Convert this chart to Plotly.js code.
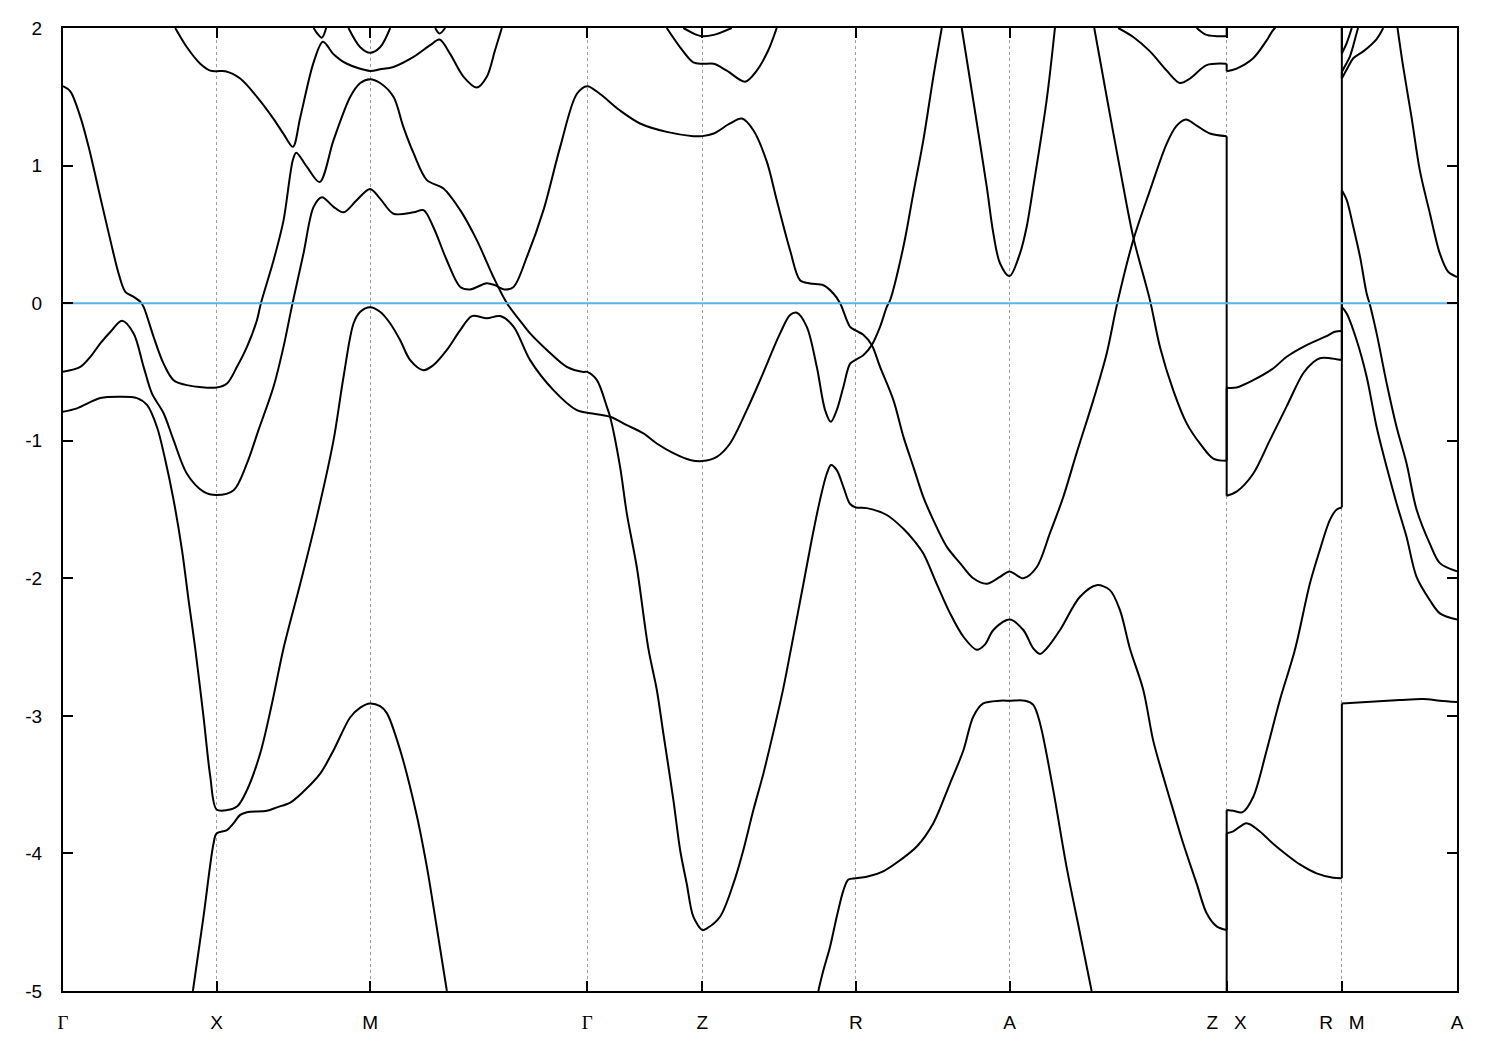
<!DOCTYPE html>
<html>
<head>
<meta charset="utf-8">
<script src="https://cdn.plot.ly/plotly-3.0.1.min.js"></script>
<style>
html, body { margin: 0; padding: 0; background: #ffffff; }
#chart { width: 1500px; height: 1050px; }
</style>
</head>
<body>
<div id="chart"></div>
<script>
// High-symmetry points along the k-path (Γ-X-M-Γ-Z-R-A-Z|X-R|M-A)
const kPoints = [0, 1, 2, 3.4142, 4.1642, 5.1642, 6.1642, 7.5784, 8.3284, 9.0784];
const kLabels = ['Γ', 'X', 'M', 'Γ', 'Z', 'R', 'A', 'Z\u00a0\u00a0\u00a0X', 'R\u00a0\u00a0\u00a0M', 'A'];
const energyTicks = [-5, -4, -3, -2, -1, 0, 1, 2];
const energyTickText = ['-5', '-4', '-3', '-2', '-1', '0', '1', '2'];
const energyRange = [-5, 2];
const fermiLevel = 0;

// ---- Bands (k, E in eV); equal consecutive k = discontinuity jump, null = gap ----
const bandD_k = [0.846, 0.915, 0.980, 1.000, 1.068, 1.111, 1.154, 1.198, 1.328, 1.393, 1.480, 1.566, 1.675, 1.762, 1.871, 1.936, 2.000, 2.065, 2.109, 2.196, 2.305, 2.370, 2.413, 2.500];
const bandD_E = [-5.00, -4.46, -3.93, -3.855, -3.83, -3.78, -3.72, -3.70, -3.69, -3.665, -3.63, -3.55, -3.42, -3.25, -3.01, -2.94, -2.91, -2.93, -2.98, -3.25, -3.73, -4.10, -4.39, -5.00];

const bandF_k = [4.919, 4.952, 4.995, 5.039, 5.082, 5.115, 5.1642, 5.234, 5.342, 5.451, 5.560, 5.668, 5.777, 5.864, 5.928, 5.993, 6.102, 6.1642, 6.265, 6.319, 6.363, 6.449, 6.536, 6.623, 6.699, null,
  7.5784, 7.5784, 7.621, 7.708, 7.795, 7.881, 7.969, 8.055, 8.164, 8.272, 8.3284, 8.3284, 8.490, 8.706, 8.858, 8.967, 9.0784];
const bandF_E = [-5.00, -4.85, -4.68, -4.46, -4.27, -4.19, -4.18, -4.17, -4.13, -4.05, -3.95, -3.78, -3.49, -3.25, -3.006, -2.91, -2.89, -2.89, -2.89, -2.92, -3.055, -3.54, -4.10, -4.58, -5.00, null,
  -5.5, -3.854, -3.84, -3.78, -3.84, -3.93, -4.01, -4.08, -4.145, -4.177, -4.18, -2.91, -2.90, -2.885, -2.878, -2.89, -2.90];

const bandC_k = [0, 0.091, 0.243, 0.373, 0.482, 0.547, 0.612, 0.666, 0.720, 0.775, 0.818, 0.861, 0.915, 0.959, 1.000,
  1.068, 1.137, 1.198, 1.285, 1.361, 1.436, 1.545, 1.654, 1.762, 1.827, 1.892, 1.936, 2.000,
  2.065, 2.131, 2.196, 2.261, 2.348, 2.413, 2.500, 2.587, 2.663, 2.760, 2.847, 2.934, 3.042, 3.194, 3.346, 3.4142,
  3.563, 3.672, 3.780, 3.867, 3.975, 4.084, 4.1642,
  4.258, 4.344, 4.453, 4.540, 4.670, 4.735, 4.779, 4.844, 4.909, 4.963, 5.000, 5.039, 5.082, 5.126, 5.1642,
  5.212, 5.267, 5.321, 5.365, 5.386, 5.473, 5.538, 5.603, 5.668, 5.723];
const bandC_E = [-0.79, -0.765, -0.69, -0.68, -0.69, -0.74, -0.90, -1.14, -1.43, -1.795, -2.16, -2.51, -3.006, -3.44, -3.68,
  -3.685, -3.655, -3.54, -3.27, -2.91, -2.51, -2.04, -1.55, -0.996, -0.535, -0.148, -0.063, -0.03,
  -0.063, -0.148, -0.27, -0.414, -0.487, -0.45, -0.34, -0.196, -0.094, -0.11, -0.094, -0.17, -0.414, -0.632, -0.778, -0.797,
  -0.826, -0.887, -0.947, -1.02, -1.09, -1.14, -1.148,
  -1.117, -1.02, -0.778, -0.56, -0.22, -0.087, -0.07, -0.172, -0.463, -0.778, -0.863, -0.778, -0.61, -0.44, -0.41,
  -0.378, -0.305, -0.172, -0.027, 0.02, 0.41, 0.80, 1.185, 1.645, 2.0];

const bandQ_k = [0, 0.0475, 0.113, 0.167, 0.243, 0.308, 0.362, 0.406, 0.460, 0.503, 0.525, 0.590, 0.655, 0.720, 0.807, 1.000,
  1.068, 1.133, 1.198, 1.263, 1.289, 1.371, 1.436, 1.497, 1.519, 1.589, 1.671, 1.762, 1.871, 1.936, 2.000,
  2.065, 2.152, 2.217, 2.283, 2.370, 2.478, 2.587, 2.695, 2.803, 2.891, 2.999, 3.042, 3.151, 3.281, 3.389, 3.4142,
  3.477, 3.542, 3.563, 3.628, 3.672, 3.737, 3.812, 3.867, 3.910, 3.975, 4.019, 4.062, 4.105, 4.1642,
  4.193, 4.279, 4.366, 4.431, 4.496, 4.561, 4.626, 4.691, 4.757, 4.822, 4.876, 4.930, 4.974, 5.002, 5.039, 5.082, 5.126, 5.1642,
  5.234, 5.365, 5.473, 5.538, 5.603, 5.690, 5.777, 5.864, 5.951, 6.005, 6.059, 6.1642, 6.254, 6.319, 6.363, 6.406, 6.493, 6.623, 6.732, 6.818, 6.883, 6.948, 7.035, 7.100, 7.165, 7.230, 7.296, 7.383, 7.448, 7.513, 7.5784,
  7.5784, 7.621, 7.682, 7.751, 7.839, 7.925, 8.023, 8.120, 8.185, 8.250, 8.295, 8.3284,
  8.3284, 8.360, 8.425, 8.490, 8.555, 8.620, 8.685, 8.750, 8.815, 8.902, 8.967, 9.0784];
const bandQ_E = [1.577, 1.54, 1.354, 1.136, 0.77, 0.46, 0.216, 0.082, 0.046, 0.01, -0.027, -0.245, -0.44, -0.56, -0.596, -0.613,
  -0.584, -0.463, -0.318, -0.124, 0, 0.31, 0.6, 1.04, 1.093, 0.99, 0.88, 1.185, 1.50, 1.60, 1.628,
  1.60, 1.50, 1.28, 1.09, 0.894, 0.834, 0.676, 0.458, 0.19, 0, -0.16, -0.22, -0.34, -0.463, -0.50, -0.50,
  -0.56, -0.754, -0.826, -1.19, -1.53, -1.92, -2.51, -2.81, -3.13, -3.61, -3.975, -4.22, -4.46, -4.557,
  -4.545, -4.46, -4.22, -3.975, -3.685, -3.42, -3.12, -2.80, -2.42, -2.04, -1.72, -1.43, -1.24, -1.177, -1.214, -1.335, -1.46, -1.485,
  -1.49, -1.54, -1.64, -1.72, -1.82, -2.04, -2.255, -2.425, -2.52, -2.48, -2.376, -2.30, -2.376, -2.51, -2.55, -2.51, -2.376, -2.134, -2.05, -2.086, -2.23, -2.51, -2.81, -3.18, -3.44, -3.685, -3.93, -4.22, -4.435, -4.53, -4.557,
  -3.685, -3.69, -3.70, -3.59, -3.25, -2.885, -2.52, -2.04, -1.795, -1.577, -1.50, -1.485,
  -0.027, -0.075, -0.27, -0.535, -0.90, -1.19, -1.456, -1.70, -1.99, -2.16, -2.255, -2.30];

const bandB_k = [0, 0.113, 0.178, 0.243, 0.308, 0.384, 0.460, 0.525, 0.579, 0.655, 0.720, 0.807, 0.915, 1.000,
  1.111, 1.198, 1.273, 1.371, 1.436, 1.495, 1.566, 1.632, 1.686, 1.762, 1.827, 1.914, 2.000,
  2.065, 2.152, 2.283, 2.348, 2.413, 2.500, 2.587, 2.652, 2.760, 2.814, 2.873, 2.934, 3.021, 3.129, 3.238, 3.346, 3.4142,
  3.498, 3.628, 3.758, 3.932, 4.105, 4.1642,
  4.238, 4.344, 4.421, 4.496, 4.583, 4.648, 4.735, 4.800, 4.865, 4.952, 5.017, 5.061, 5.126, 5.1642,
  5.212, 5.267, 5.321, 5.408, 5.473, 5.538, 5.603, 5.668, 5.755, 5.842, 5.928, 6.016, 6.102, 6.1642, 6.254, 6.341, 6.428, 6.514, 6.601, 6.710, 6.797, 6.866, 6.970, 7.079, 7.188, 7.253, 7.313, 7.383, 7.469, 7.5784,
  7.5784, 7.643, 7.751, 7.860, 7.969, 8.077, 8.142, 8.185, 8.250, 8.3284,
  8.3284, 8.360, 8.403, 8.447, 8.490, 8.512, 8.555, 8.620, 8.685, 8.750, 8.815, 8.902, 8.967, 9.0784];
const bandB_E = [-0.499, -0.463, -0.39, -0.293, -0.21, -0.128, -0.22, -0.463, -0.656, -0.80, -0.996, -1.24, -1.37, -1.395,
  -1.36, -1.165, -0.923, -0.608, -0.318, 0, 0.36, 0.70, 0.77, 0.70, 0.66, 0.75, 0.83,
  0.76, 0.65, 0.66, 0.676, 0.55, 0.31, 0.118, 0.10, 0.145, 0.13, 0.10, 0.118, 0.336, 0.676, 1.136, 1.52, 1.577,
  1.52, 1.40, 1.306, 1.245, 1.214, 1.214,
  1.233, 1.306, 1.342, 1.257, 1.03, 0.75, 0.385, 0.167, 0.143, 0.13, 0.07, 0, -0.172, -0.20,
  -0.23, -0.305, -0.463, -0.705, -0.97, -1.19, -1.41, -1.577, -1.77, -1.89, -2.0, -2.04, -1.99, -1.95, -2.0, -1.92, -1.67, -1.41, -1.09, -0.705, -0.366, 0, 0.458, 0.82, 1.16, 1.29, 1.335, 1.29, 1.233, 1.214,
  -1.40, -1.37, -1.24, -0.996, -0.75, -0.51, -0.43, -0.40, -0.40, -0.414,
  0.82, 0.75, 0.555, 0.336, 0.07, -0.015, -0.22, -0.58, -0.90, -1.165, -1.50, -1.75, -1.89, -1.95];

const bandE_k = [0.731, 0.807, 0.894, 0.959, 1.000, 1.057, 1.154, 1.263, 1.371, 1.436, 1.497, 1.545, 1.632, 1.693, 1.762, 1.849, 2.000,
  2.065, 2.152, 2.283, 2.391, 2.452, 2.522, 2.609, 2.695, 2.760, 2.814, 2.858];
const bandE_E = [2.0, 1.86, 1.74, 1.69, 1.686, 1.686, 1.633, 1.50, 1.34, 1.23, 1.136, 1.35, 1.75, 1.90, 1.81, 1.74, 1.688,
  1.70, 1.717, 1.79, 1.875, 1.916, 1.81, 1.645, 1.567, 1.645, 1.84, 2.0];

const bandT1_k = [1.632, 1.656, 1.686, 1.714];
const bandT1_E = [2.0, 1.96, 1.93, 2.0];
const bandT2_k = [1.859, 1.936, 2.000, 2.065, 2.131];
const bandT2_E = [2.0, 1.86, 1.82, 1.86, 2.0];
const bandT3_k = [2.424, 2.452, 2.489];
const bandT3_E = [2.0, 1.96, 2.0];
const bandT4_k = [3.932, 4.019, 4.105, 4.1642, 4.238, 4.323, 4.442, 4.518, 4.594, 4.648];
const bandT4_E = [2.0, 1.86, 1.75, 1.74, 1.74, 1.69, 1.61, 1.69, 1.84, 2.0];
const bandT5_k = [4.040, 4.128, 4.1642, 4.238, 4.355];
const bandT5_E = [2.0, 1.95, 1.94, 1.95, 2.0];
const bandT6_k = [5.853, 5.928, 6.016, 6.059, 6.102, 6.1642, 6.232, 6.276, 6.319, 6.406, 6.460];
const bandT6_E = [2.0, 1.475, 0.845, 0.506, 0.29, 0.196, 0.36, 0.555, 0.845, 1.475, 2.0];
const bandT6b_k = [8.691, 8.728, 8.782, 8.836, 8.902, 8.967, 9.021, 9.0784];
const bandT6b_E = [2.0, 1.717, 1.354, 0.967, 0.652, 0.36, 0.228, 0.19];
const bandT7_k = [6.872, 6.970, 7.079, 7.188, 7.274, 7.340, 7.448, 7.5784, 7.5784, 7.643, 7.751, 7.839, 7.893, 8.3284, 8.3284, 8.369, 8.403, 8.468, 8.555, 8.598];
const bandT7_E = [2.0, 1.935, 1.83, 1.69, 1.60, 1.633, 1.73, 1.74, 1.686, 1.705, 1.78, 1.91, 2.0, 2.3, 1.633, 1.717, 1.78, 1.83, 1.92, 2.0];
const bandT8_k = [7.383, 7.448, 7.5784, 7.5784, 8.3284, 8.3284, 8.360, 8.393];
const bandT8_E = [2.0, 1.95, 1.94, 2.3, 2.3, 1.815, 1.89, 2.0];
const bandT9_k = [6.716, 6.797, 6.883, 6.970, 7.079, 7.144, 7.230, 7.318, 7.404, 7.491, 7.5784, 7.5784, 7.643, 7.751, 7.881, 7.969, 8.099, 8.229, 8.283, 8.3284, 8.3284, 8.347, 8.380, 8.424, 8.434];
const bandT9_E = [2.0, 1.50, 0.98, 0.48, 0.02, -0.318, -0.632, -0.874, -1.02, -1.13, -1.146, -0.615, -0.613, -0.56, -0.475, -0.39, -0.305, -0.24, -0.208, -0.203, 1.68, 1.72, 1.79, 1.96, 2.0];

const bands = [
  [bandD_k, bandD_E], [bandF_k, bandF_E], [bandC_k, bandC_E], [bandQ_k, bandQ_E], [bandB_k, bandB_E],
  [bandE_k, bandE_E], [bandT1_k, bandT1_E], [bandT2_k, bandT2_E], [bandT3_k, bandT3_E], [bandT4_k, bandT4_E],
  [bandT5_k, bandT5_E], [bandT6_k, bandT6_E], [bandT6b_k, bandT6b_E], [bandT7_k, bandT7_E], [bandT8_k, bandT8_E],
  [bandT9_k, bandT9_E]
];

const traces = [];
const lineStyle = { color: '#000000', width: 2 };

function pushSmooth(seg) {
  if (seg.x.length >= 2) {
    traces.push({ type: 'scatter', mode: 'lines', x: seg.x, y: seg.y, hoverinfo: 'skip',
      line: Object.assign({ shape: 'spline', smoothing: 0.9 }, lineStyle), showlegend: false });
  }
}
function addBand(k, e) {
  let seg = { x: [], y: [] };
  for (let i = 0; i < k.length; i++) {
    if (k[i] === null) { pushSmooth(seg); seg = { x: [], y: [] }; continue; }
    if (i > 0 && k[i - 1] !== null && k[i] === k[i - 1]) {
      pushSmooth(seg);
      traces.push({ type: 'scatter', mode: 'lines', x: [k[i - 1], k[i]], y: [e[i - 1], e[i]], hoverinfo: 'skip',
        line: Object.assign({ shape: 'linear' }, lineStyle), showlegend: false });
      seg = { x: [k[i]], y: [e[i]] };
      continue;
    }
    seg.x.push(k[i]); seg.y.push(e[i]);
  }
  pushSmooth(seg);
}
bands.forEach(b => addBand(b[0], b[1]));

// Fermi level (drawn on top)
traces.push({ type: 'scatter', mode: 'lines', x: [kPoints[0], kPoints[kPoints.length - 1]], y: [fermiLevel, fermiLevel],
  line: { color: '#56b4e9', width: 2 }, hoverinfo: 'skip', showlegend: false });

const tickText = kLabels.map(l => l === 'Γ' ? '<span style="font-family:\'Liberation Serif\', serif">Γ</span>' : l);
const labelFont = { family: 'Liberation Sans, Arial, sans-serif', size: 19, color: '#000000' };

const layout = {
  width: 1500, height: 1050,
  margin: { l: 63, r: 43, t: 28, b: 59, pad: 0 },
  paper_bgcolor: '#ffffff', plot_bgcolor: '#ffffff',
  showlegend: false,
  font: labelFont,
  xaxis: {
    range: [kPoints[0], kPoints[kPoints.length - 1]],
    tickmode: 'array', tickvals: kPoints, ticktext: tickText,
    ticks: 'inside', ticklen: 10, tickwidth: 2, tickcolor: '#000000',
    showline: true, linecolor: '#000000', linewidth: 2, mirror: 'ticks',
    showgrid: true, gridcolor: '#a0a0a0', gridwidth: 1, griddash: '3px,3px',
    zeroline: false, ticklabelstandoff: 13,
    tickfont: labelFont,
    fixedrange: true
  },
  yaxis: {
    range: energyRange,
    tickmode: 'array', tickvals: energyTicks, ticktext: energyTickText,
    ticks: 'inside', ticklen: 10, tickwidth: 2, tickcolor: '#000000',
    showline: true, linecolor: '#000000', linewidth: 2, mirror: 'ticks',
    showgrid: false, zeroline: false, ticklabelstandoff: 15,
    tickfont: labelFont,
    fixedrange: true
  }
};

Plotly.newPlot('chart', traces, layout, { staticPlot: true, displayModeBar: false });
</script>
</body>
</html>
